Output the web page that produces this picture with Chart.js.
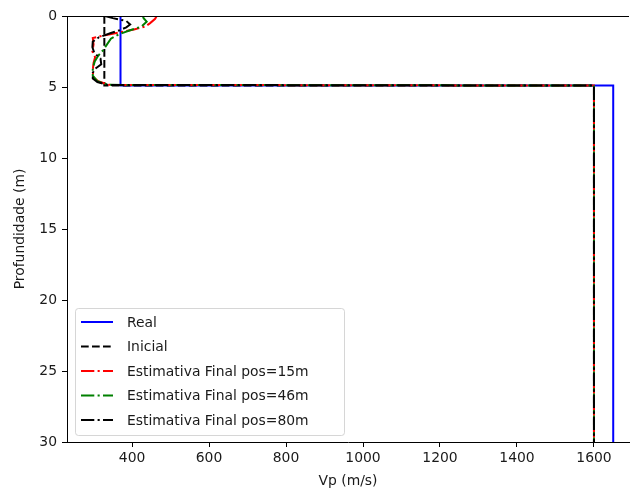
<!DOCTYPE html>
<html>
<head>
<meta charset="utf-8">
<script src="https://cdn.jsdelivr.net/npm/chart.js@4/dist/chart.umd.min.js"></script>
<style>
  html, body { margin: 0; padding: 0; background: #ffffff; }
  #wrap { width: 630px; height: 493px; position: relative; }
</style>
</head>
<body>
<div id="wrap"><canvas id="c" width="630" height="493"></canvas></div>
<script>
// Velocity profiles: depth (m) and P-wave velocity (m/s)
const depthReal = [0, 4.9, 4.9, 30];
const vpReal    = [370, 370, 1650, 1650];

const depthInicial = [0, 4.9, 4.9, 30];
const vpInicial    = [328, 328, 1600, 1600];

const depth15 = [0, 0.2, 0.5, 0.75, 0.95, 1.15, 1.35, 1.55, 2.0, 2.5, 2.9, 3.3, 3.8, 4.3, 4.6, 4.85, 4.9, 30];
const vp15    = [464, 460, 447, 434, 405, 368, 330, 298, 300, 297, 304, 300, 298, 299, 312, 340, 1600, 1600];

const depth46 = [0, 0.15, 0.4, 0.75, 1.0, 1.3, 1.6, 2.0, 2.4, 2.8, 3.2, 3.7, 4.2, 4.6, 4.85, 4.9, 30];
const vp46    = [428, 430, 438, 424, 395, 365, 345, 335, 325, 312, 303, 298, 298, 310, 338, 1600, 1600];

const depth80 = [0, 0.15, 0.35, 0.6, 0.8, 1.0, 1.2, 1.5, 1.8, 2.2, 2.6, 3.0, 3.4, 3.7, 4.0, 4.4, 4.65, 4.85, 4.9, 30];
const vp80    = [330, 350, 385, 395, 385, 368, 345, 314, 298, 297, 302, 318, 320, 305, 298, 298, 310, 335, 1600, 1600];

const seriesLabels = ['Real', 'Inicial', 'Estimativa Final pos=15m', 'Estimativa Final pos=46m', 'Estimativa Final pos=80m'];

const xTicks = [400, 600, 800, 1000, 1200, 1400, 1600];
const yTicks = [0, 5, 10, 15, 20, 25, 30];

const FONT = { family: '"DejaVu Sans", sans-serif', size: 13.9 };
const TEXT = '#1a1a1a';
const DASHED = [7.7, 3.3];
const DASHDOT = [13.3, 3.3, 2.1, 3.3];

function toPoints(depths, vps) {
  return depths.map((d, i) => ({ x: vps[i], y: d }));
}

function lineSet(label, depths, vps, color, dash, order) {
  return {
    label: label,
    data: toPoints(depths, vps),
    showLine: true,
    borderColor: color,
    backgroundColor: color,
    borderWidth: 2,
    borderDash: dash,
    pointRadius: 0,
    pointHoverRadius: 0,
    fill: false,
    tension: 0,
    order: order
  };
}

// Frame line on top, axis titles and the legend box
const decorations = {
  id: 'decorations',
  afterDraw(chart) {
    const ctx = chart.ctx;
    const a = chart.chartArea;
    ctx.save();
    ctx.strokeStyle = '#000';
    ctx.lineWidth = 1;
    ctx.beginPath();
    ctx.moveTo(a.left, a.top + 0.5);
    ctx.lineTo(a.right, a.top + 0.5);
    ctx.stroke();

    ctx.fillStyle = TEXT;
    ctx.font = FONT.size + 'px ' + FONT.family;
    ctx.textAlign = 'center';
    ctx.textBaseline = 'middle';
    ctx.fillText('Vp (m/s)', (a.left + a.right) / 2, 481);
    ctx.save();
    ctx.translate(20, (a.top + a.bottom) / 2);
    ctx.rotate(-Math.PI / 2);
    ctx.fillText('Profundidade (m)', 0, 0);
    ctx.restore();

    // legend
    const bx = a.left + 8, bw = 269, bh = 127;
    const by = a.bottom - 7 - bh;
    ctx.globalAlpha = 0.8;
    ctx.fillStyle = '#fff';
    ctx.strokeStyle = '#cccccc';
    ctx.beginPath();
    ctx.roundRect(bx + 0.5, by + 0.5, bw, bh, 3);
    ctx.fill();
    ctx.stroke();
    ctx.globalAlpha = 1;
    const ds = chart.data.datasets;
    ctx.textAlign = 'left';
    ds.forEach((d, i) => {
      const y = by + 14 + i * 24.5;
      ctx.strokeStyle = d.borderColor;
      ctx.lineWidth = 2;
      ctx.setLineDash(d.borderDash || []);
      ctx.beginPath();
      ctx.moveTo(bx + 6, y);
      ctx.lineTo(bx + 38, y);
      ctx.stroke();
      ctx.setLineDash([]);
      ctx.fillStyle = TEXT;
      ctx.fillText(d.label, bx + 52, y + 1);
    });
    ctx.restore();
  }
};

new Chart(document.getElementById('c'), {
  type: 'scatter',
  data: {
    datasets: [
      lineSet(seriesLabels[0], depthReal, vpReal, '#0000ff', [], 5),
      lineSet(seriesLabels[1], depthInicial, vpInicial, '#000000', DASHED, 4),
      lineSet(seriesLabels[2], depth15, vp15, '#ff0000', DASHDOT, 3),
      lineSet(seriesLabels[3], depth46, vp46, '#008000', DASHDOT, 2),
      lineSet(seriesLabels[4], depth80, vp80, '#000000', DASHDOT, 1)
    ]
  },
  options: {
    responsive: false,
    animation: false,
    devicePixelRatio: 1,
    layout: { padding: { top: 16, right: 1, left: 0, bottom: 0 } },
    plugins: { legend: { display: false }, tooltip: { enabled: false } },
    scales: {
      x: {
        type: 'linear',
        position: 'bottom',
        min: 231,
        max: 1691,
        afterFit(s) { s.height = 51; },
        afterBuildTicks(s) { s.ticks = xTicks.map(v => ({ value: v })); },
        grid: { drawOnChartArea: false, tickLength: 5, tickColor: '#000', tickWidth: 1 },
        border: { color: '#000', width: 1 },
        ticks: { font: FONT, color: TEXT, padding: 3, maxRotation: 0, autoSkip: false, callback: v => String(v) }
      },
      y: {
        type: 'linear',
        reverse: true,
        min: 0,
        max: 30,
        afterFit(s) { s.width = 67; },
        afterBuildTicks(s) { s.ticks = yTicks.map(v => ({ value: v })); },
        grid: { drawOnChartArea: false, tickLength: 5, tickColor: '#000', tickWidth: 1 },
        border: { color: '#000', width: 1 },
        ticks: { font: FONT, color: TEXT, padding: 5, autoSkip: false, callback: v => String(v) }
      }
    }
  },
  plugins: [decorations]
});
</script>
</body>
</html>
